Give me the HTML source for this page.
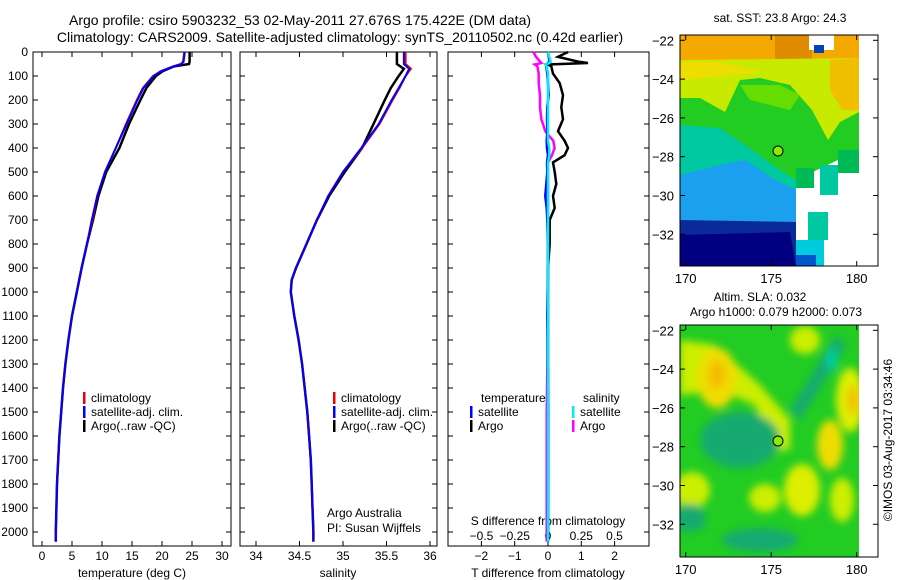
<!DOCTYPE html>
<html><head><meta charset="utf-8"><style>
body{margin:0;background:#fff}
svg{display:block;font-family:"Liberation Sans",sans-serif}
text{fill:#000}
</style></head><body>
<svg id="c" width="900" height="580" viewBox="0 0 900 580" xmlns="http://www.w3.org/2000/svg">
<defs>
<clipPath id="m1"><rect x="680" y="35" width="179" height="231"/></clipPath>
<clipPath id="m2"><rect x="680" y="325" width="179" height="232"/></clipPath>
<filter id="bl" x="-20%" y="-20%" width="140%" height="140%"><feGaussianBlur stdDeviation="4"/></filter>
</defs>
<text x="300" y="25" font-size="14" text-anchor="middle">Argo profile: csiro 5903232_53 02-May-2011 27.676S 175.422E (DM data)</text>
<text x="340" y="42" font-size="14" text-anchor="middle">Climatology: CARS2009. Satellite-adjusted climatology: synTS_20110502.nc (0.42d earlier)</text>

<g>
<text x="780" y="22" font-size="12" text-anchor="middle">sat. SST: 23.8 Argo: 24.3</text>
<g clip-path="url(#m1)">
<rect x="680" y="35" width="179" height="231" fill="#22cc22"/>
<polygon points="680,35 859,35 859,60 800,66 760,70 720,62 680,64" fill="#f5a800"/>
<polygon points="775,35 812,35 812,68 790,70 775,60" fill="#e08a00"/>
<polygon points="680,60 859,58 859,112 840,122 828,140 812,110 790,85 760,78 740,80 725,112 700,98 680,98" fill="#c8ea00"/>
<polygon points="680,62 720,62 760,72 680,80" fill="#eedd00"/>
<polygon points="830,60 859,58 859,110 842,110 830,90" fill="#f0c000"/>
<polygon points="740,85 780,85 800,95 790,110 750,100" fill="#66dd00"/>
<polygon points="680,125 720,128 745,145 780,170 796,180 796,192 680,192" fill="#00c8a0"/>
<polygon points="680,175 720,165 745,160 775,180 796,190 796,225 680,225" fill="#1aa0ee"/>
<polygon points="680,220 796,222 800,228 800,266 680,266" fill="#0a2a9a"/>
<polygon points="680,235 790,232 796,266 680,266" fill="#000080"/>
<polygon points="796,180 859,150 859,266 796,266" fill="#fff"/>
<rect x="809" y="35" width="25" height="15" fill="#fff"/>
<rect x="814" y="45" width="10" height="8" fill="#0044bb"/>
<rect x="838" y="150" width="21" height="23" fill="#00bb55"/>
<rect x="820" y="165" width="18" height="30" fill="#00c8a0"/>
<rect x="808" y="212" width="20" height="28" fill="#00c8a0"/>
<rect x="796" y="240" width="28" height="26" fill="#00ccdd"/>
<rect x="796" y="255" width="20" height="11" fill="#0055cc"/>
<rect x="796" y="168" width="18" height="20" fill="#00bb55"/>
</g>
<rect x="680" y="35" width="198" height="231" fill="none" stroke="#000"/>
<circle cx="778" cy="151" r="5" fill="#88ee00" stroke="#000"/>
<g id="m1axes"></g>
</g>

<g>
<text x="760" y="301" font-size="12" text-anchor="middle">Altim. SLA: 0.032</text>
<text x="776" y="316" font-size="12" text-anchor="middle">Argo h1000: 0.079 h2000: 0.073</text>
<g clip-path="url(#m2)">
<rect x="680" y="325" width="179" height="232" fill="#22cc22"/>
<g filter="url(#bl)">
<polygon points="680,340 715,345 760,385 790,420 790,450 775,450 755,405 720,390 680,395" fill="#ccee00"/>
<ellipse cx="717" cy="378" rx="20" ry="30" fill="#eedd00"/>
<ellipse cx="717" cy="375" rx="8" ry="14" fill="#f5bb00"/>
<ellipse cx="805" cy="340" rx="15" ry="14" fill="#ccee00"/>
<ellipse cx="850" cy="400" rx="14" ry="32" fill="#ddee00"/>
<ellipse cx="853" cy="400" rx="6" ry="15" fill="#f5c000"/>
<ellipse cx="830" cy="445" rx="13" ry="25" fill="#eedd00"/>
<ellipse cx="692" cy="490" rx="18" ry="18" fill="#ccee00"/>
<ellipse cx="765" cy="498" rx="16" ry="14" fill="#ccee00"/>
<ellipse cx="802" cy="490" rx="18" ry="26" fill="#ddee00"/>
<ellipse cx="842" cy="500" rx="12" ry="22" fill="#ccee00"/>
<ellipse cx="740" cy="440" rx="40" ry="28" fill="#14aa70"/>
<polygon points="836,335 846,345 800,420 790,410" fill="#14aa70"/>
<ellipse cx="832" cy="360" rx="5" ry="12" fill="#00ccaa"/>
<ellipse cx="760" cy="540" rx="38" ry="12" fill="#14aa70"/>
<ellipse cx="690" cy="518" rx="16" ry="14" fill="#14aa70"/>
</g>
</g>
<rect x="859" y="325" width="18" height="232" fill="#fff"/>
<rect x="680" y="325" width="198" height="232" fill="none" stroke="#000"/>
<circle cx="778" cy="441" r="5" fill="#88ee00" stroke="#000"/>
<g id="m2axes"></g>
</g>
<text transform="translate(892,440) rotate(-90)" font-size="12" text-anchor="middle">©IMOS 03-Aug-2017 03:34:46</text>
<g id="plots"></g>
</svg>
<script>
// ---- data ----
const depthT=[0,40,50,60,80,100,150,200,300,400,500,600,700,800,900,1000,1100,1200,1300,1400,1500,1600,1700,1800,1900,2000,2040];
const climT=[23.7,23.5,23.2,21.8,19.8,18.5,16.8,15.8,14.0,12.3,10.5,9.2,8.4,7.5,6.6,5.8,5.0,4.4,3.9,3.5,3.2,2.9,2.7,2.5,2.4,2.3,2.3];
const satT=[23.8,23.6,23.2,21.9,19.9,18.6,16.9,15.9,14.1,12.3,10.5,9.2,8.3,7.5,6.6,5.8,5.0,4.4,3.9,3.5,3.2,2.9,2.7,2.5,2.4,2.3,2.3];
const argoT=[24.6,24.6,24.5,22.0,20.1,19.0,17.4,16.4,14.5,12.9,10.7,9.4,8.5,7.5,6.6,5.8,5.0,4.4,3.9,3.5,3.2,2.9,2.7,2.5,2.4,2.3,2.3];
const depthS=[0,50,70,100,150,200,300,400,500,600,700,800,900,950,1000,1100,1200,1300,1400,1500,1600,1700,1800,1900,2000,2040];
const climS=[35.72,35.72,35.78,35.72,35.65,35.57,35.42,35.22,35.0,34.83,34.7,34.58,34.46,34.41,34.40,34.44,34.49,34.53,34.56,34.59,34.61,34.63,34.64,34.65,34.66,34.66];
const satS=[35.70,35.70,35.76,35.72,35.64,35.56,35.41,35.21,35.0,34.83,34.7,34.58,34.46,34.41,34.40,34.44,34.49,34.53,34.56,34.59,34.61,34.63,34.64,34.65,34.66,34.66];
const argoS=[35.62,35.62,35.70,35.64,35.55,35.48,35.35,35.22,35.02,34.84,34.7,34.58,34.46,34.41,34.40,34.44,34.49,34.53,34.56,34.59,34.61,34.63,34.64,34.65,34.66,34.66];
const depthD=[0,20,40,46,52,60,90,130,180,230,280,330,370,400,430,460,500,550,600,650,700,800,900,1100,1500,2040];
const argoTd=[0.6,0.3,0.9,1.2,0.0,0.1,0.15,0.35,0.45,0.4,0.45,0.3,0.5,0.6,0.5,0.15,0.2,0.25,0.15,0.2,0.05,0.05,0.0,0.0,0.0,0.0];
const satTd=[0.0,0.02,0.05,0.0,-0.05,-0.05,-0.02,0.0,0.02,-0.02,-0.03,-0.02,-0.04,-0.03,0.0,-0.03,-0.02,-0.05,-0.08,-0.04,-0.02,0.0,0.0,-0.02,0.01,0.0];
const argoSd=[-0.11,-0.09,-0.06,-0.05,-0.1,-0.08,-0.07,-0.07,-0.06,-0.06,-0.05,-0.02,0.04,0.05,0.03,0.0,0.0,0.0,0.0,0.0,0.0,0.0,0.0,0.0,-0.01,-0.01];
const satSd=[0.0,0.01,0.02,0.01,-0.02,-0.01,0.0,0.0,0.0,0.0,0.0,0.0,0.0,0.01,0.01,0.0,0.0,0.0,0.0,0.0,0.0,0.0,0.0,0.0,0.0,0.0];
const depthTicks=[0,100,200,300,400,500,600,700,800,900,1000,1100,1200,1300,1400,1500,1600,1700,1800,1900,2000];
const tempTicks=[0,5,10,15,20,25,30];
const salTicks=[34,34.5,35,35.5,36];
const tdTicks=[-2,-1,0,1,2];
const sdTicks=[-0.5,-0.25,0,0.25,0.5];
const lonTicks=[170,175,180];
const latTicks=[-22,-24,-26,-28,-30,-32];

const NS="http://www.w3.org/2000/svg";
const root=document.getElementById('plots');
function mk(tag,at,parent){const e=document.createElementNS(NS,tag);for(const k in at)e.setAttribute(k,at[k]);(parent||root).appendChild(e);return e;}
function txt(x,y,s,anchor,size,parent){const t=mk('text',{x:x,y:y,'font-size':size||12,'text-anchor':anchor||'middle'},parent);t.textContent=s;return t;}
const yD=d=>52+d*0.24;
const xT=v=>42+v*6;
const xS=v=>256+(v-34)*87;
const xTd=v=>548+v*33.3;
const xSd=v=>548+v*133;
const TOP=52,BOT=546;

function line(xs,ds,f,color,w,name){
  const p=xs.map((v,i)=>f(v).toFixed(1)+','+yD(ds[i]).toFixed(1)).join(' ');
  const e=mk('polyline',{points:p,fill:'none',stroke:color,'stroke-width':w});
  
  
}
function frame(x0,x1,name){
  const r=mk('rect',{x:x0,y:TOP,width:x1-x0,height:BOT-TOP,fill:'none',stroke:'#000'});
  
  
  depthTicks.forEach(d=>{mk('line',{x1:x0,x2:x0+5,y1:yD(d),y2:yD(d),stroke:'#000'});mk('line',{x1:x1-5,x2:x1,y1:yD(d),y2:yD(d),stroke:'#000'});});
}
function xticks(vals,f,y,lab){
  vals.forEach(v=>{const x=f(v);mk('line',{x1:x,x2:x,y1:BOT,y2:BOT-5,stroke:'#000'});mk('line',{x1:x,x2:x,y1:TOP,y2:TOP+5,stroke:'#000'});
    if(lab){const t=txt(x,y,String(v).replace('-','−'));}});
}
function legend(x,y,items,name){items.forEach((it,i)=>{const g=mk('g',{});
  mk('rect',{x:x,y:y+i*14-10,width:2.5,height:12,fill:it[1]},g);txt(x+8,y+i*14,it[0],'start',12,g);});}
// panel 1
frame(33,231,'temperature-panel');
depthTicks.forEach(d=>{const t=txt(28,yD(d)+4,String(d),'end');});
xticks(tempTicks,xT,560,true);
let t1=txt(132,577,'temperature (deg C)');
line(argoT,depthT,xT,'#000',2.5,'argo-temperature-line');
line(climT,depthT,xT,'#e00',2,'clim-temperature-line');
line(satT,depthT,xT,'#0000ff',2,'sat-temperature-line');
legend(83,402,[['climatology','#e00'],['satellite-adj. clim.','#0000ff'],['Argo(..raw -QC)','#000']],'temp-legend');
// panel 2
frame(240,437,'salinity-panel');
xticks(salTicks,xS,560,true);
let t2=txt(338,577,'salinity');
line(argoS,depthS,xS,'#000',2.5,'argo-salinity-line');
line(climS,depthS,xS,'#e00',2,'clim-salinity-line');
line(satS,depthS,xS,'#0000ff',2,'sat-salinity-line');
legend(333,402,[['climatology','#e00'],['satellite-adj. clim.','#0000ff'],['Argo(..raw -QC)','#000']],'sal-legend');
txt(327,517,'Argo Australia','start');txt(327,532,'PI: Susan Wijffels','start');
// panel 3
frame(448,649,'difference-panel');
xticks(tdTicks,xTd,560,true);
sdTicks.forEach(v=>{const t=txt(xSd(v),540,String(v).replace('-','−'));});
let t3=txt(548,525,'S difference from climatology');
let t4=txt(548,577,'T difference from climatology');
line(argoTd,depthD,xTd,'#000',2.5,'argo-t-diff-line');
line(argoSd,depthD,xSd,'#ff00ff',2.5,'argo-s-diff-line');
line(satTd,depthD,xTd,'#0000ff',2.5,'sat-t-diff-line');
line(satSd,depthD,xSd,'#00eeee',2.5,'sat-s-diff-line');
txt(481,402,'temperature','start');txt(583,402,'salinity','start');
legend(470,416,[['satellite','#0000ff'],['Argo','#000']],'tdiff-legend');
legend(572,416,[['satellite','#00eeee'],['Argo','#ff00ff']],'sdiff-legend');
// map axes
const xLon=v=>685.7+(v-170)*17.1;
function mapAxes(id,top,bot,lat0y){
  const g=document.getElementById(id);
  lonTicks.forEach(v=>{const x=xLon(v);mk('line',{x1:x,x2:x,y1:bot,y2:bot-5,stroke:'#000'},g);mk('line',{x1:x,x2:x,y1:top,y2:top+5,stroke:'#000'},g);
    const t=txt(x,bot+17,String(v),'middle',13,g);});
  latTicks.forEach(v=>{const y=lat0y+(-22-v)*19.4;mk('line',{x1:680,x2:685,y1:y,y2:y,stroke:'#000'},g);mk('line',{x1:873,x2:878,y1:y,y2:y,stroke:'#000'},g);
    const t=txt(674,y+5,String(v).replace('-','−'),'end',13,g);});
}
mapAxes('m1axes',35,266,40.3);
mapAxes('m2axes',325,557,330.3);
</script>
</body></html>
